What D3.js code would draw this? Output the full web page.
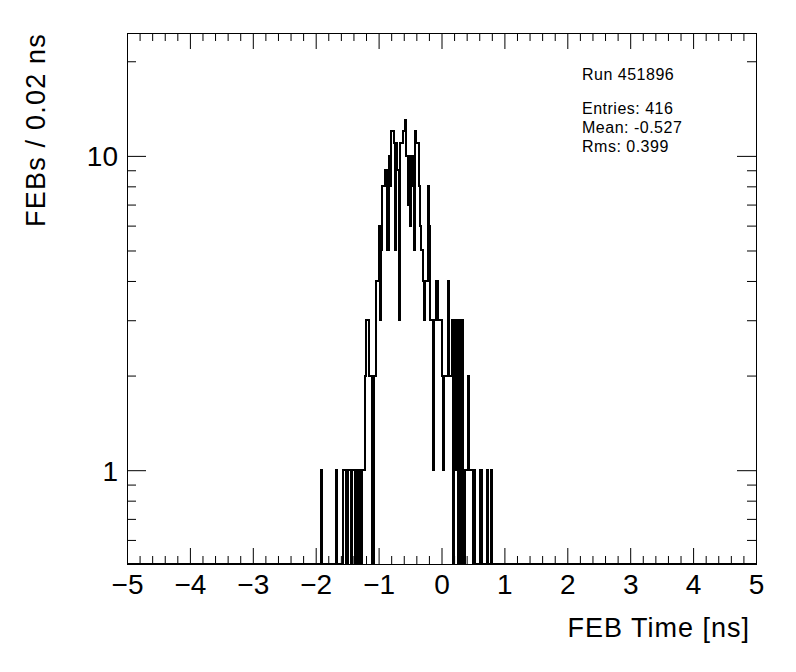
<!DOCTYPE html>
<html>
<head>
<meta charset="utf-8">
<script src="https://cdn.jsdelivr.net/npm/d3@7"></script>
<style>
  body { margin: 0; background: #fff; }
  svg { font-family: "Liberation Sans", Arial, sans-serif; }
  .axis text { font-size: 28px; fill: #000; }
  .axis line { stroke: #000; stroke-width: 1px; }
</style>
</head>
<body>
<div id="chart"></div>
<script>
// FEB time histogram, 0.02 ns bins; counts listed from the bin starting at -2.00 ns
var binWidth = 0.02;
var firstBinLow = -2.0;
var counts = [
  0, 0, 0, 0, 1, 0, 0, 0, 0, 0, 0, 0, 0, 0, 0, 0, 1, 0, 0, 0,   // -2.00 .. -1.62
  0, 0, 1, 1, 0, 0, 1, 1, 0, 1, 1, 0, 1, 1, 0, 1, 0, 1, 1, 2,   // -1.60 .. -1.22
  3, 3, 2, 2, 2, 0, 2, 2, 4, 4, 6, 3, 5, 8, 8, 9, 9, 5, 10, 8,  // -1.20 .. -0.82
  12, 12, 11, 5, 11, 9, 3, 11, 11, 12, 12, 13, 10, 7, 10, 6, 10, 8, 5, 12, // -0.80 .. -0.42
  11, 11, 8, 6, 5, 4, 3, 4, 4, 8, 6, 3, 3, 1, 3, 3, 4, 3, 3, 3, // -0.40 .. -0.02
  2, 1, 2, 2, 2, 4, 2, 2, 3, 0, 3, 1, 3, 0, 3, 0, 3, 1, 0, 1,   //  0.00 ..  0.38
  1, 2, 1, 1, 1, 0, 1, 0, 0, 0, 0, 1, 0, 0, 0, 0, 1, 0, 0, 1, 0 //  0.40 ..  0.80
];
var xRange = [-5, 5];
var yRange = [0.503, 24.6];
var xMajorTicks = [-5, -4, -3, -2, -1, 0, 1, 2, 3, 4, 5];
var yMajorTicks = [1, 10];
var yMinorTicks = [0.6, 0.7, 0.8, 0.9, 2, 3, 4, 5, 6, 7, 8, 9, 20];
var xTitle = "FEB Time [ns]";
var yTitle = "FEBs / 0.02 ns";
var runLabel = "Run 451896";
var statsLines = ["Entries: 416", "Mean: -0.527", "Rms: 0.399"];

var margin = {top: 33, right: 40, bottom: 108, left: 127},
    width = 796 - margin.left - margin.right,
    height = 672 - margin.top - margin.bottom;

var svg = d3.select("#chart").append("svg")
    .attr("width", 796)
    .attr("height", 672);
var g = svg.append("g")
    .attr("transform", "translate(" + margin.left + "," + margin.top + ")");

var x = d3.scaleLinear().domain(xRange).range([0, width]);
var y = d3.scaleLog().domain(yRange).range([height, 0]);

// minor x ticks every 0.2
var xMinorTicks = d3.range(xRange[0] * 5, xRange[1] * 5 + 1)
    .map(function(d) { return d / 5; })
    .filter(function(d) { return Math.abs(d - Math.round(d)) > 1e-6; });

// full histogram (500 bins), zero outside the listed range
var nBins = Math.round((xRange[1] - xRange[0]) / binWidth);
var offset = Math.round((firstBinLow - xRange[0]) / binWidth);
var pts = [];
for (var i = 0; i < nBins; i++) {
  var v = (i >= offset && i < offset + counts.length) ? counts[i - offset] : 0;
  var lo = xRange[0] + i * binWidth, hi = lo + binWidth;
  var yy = v > 0 ? y(v) : height;
  pts.push([x(lo), yy], [x(hi), yy]);
}
g.append("path")
    .attr("d", d3.line()(pts))
    .attr("fill", "none")
    .attr("stroke", "#000")
    .attr("stroke-width", 2)
    .attr("stroke-linejoin", "miter")
    .attr("shape-rendering", "crispEdges");

// axes: ticks pointing inwards on all four sides
function noDomain(sel) { sel.select(".domain").remove(); }

g.append("g").attr("class", "axis")
    .attr("transform", "translate(0," + height + ")")
    .call(d3.axisBottom(x).tickValues(xMinorTicks).tickSize(-8).tickFormat(""))
    .call(noDomain);
g.append("g").attr("class", "axis")
    .attr("transform", "translate(0," + height + ")")
    .call(d3.axisBottom(x).tickValues(xMajorTicks).tickSize(-16).tickPadding(10))
    .call(noDomain);
g.append("g").attr("class", "axis")
    .call(d3.axisTop(x).tickValues(xMinorTicks).tickSize(-8).tickFormat(""))
    .call(noDomain);
g.append("g").attr("class", "axis")
    .call(d3.axisTop(x).tickValues(xMajorTicks).tickSize(-16).tickFormat(""))
    .call(noDomain);

g.append("g").attr("class", "axis")
    .call(d3.axisLeft(y).tickValues(yMinorTicks).tickSize(-9).tickFormat(""))
    .call(noDomain);
g.append("g").attr("class", "axis")
    .call(d3.axisLeft(y).tickValues(yMajorTicks).tickSize(-19).tickPadding(9)
      .tickFormat(d3.format("d")))
    .call(noDomain)
    .selectAll("text").attr("dy", "0.36em");
g.append("g").attr("class", "axis")
    .attr("transform", "translate(" + width + ",0)")
    .call(d3.axisRight(y).tickValues(yMinorTicks).tickSize(-9).tickFormat(""))
    .call(noDomain);
g.append("g").attr("class", "axis")
    .attr("transform", "translate(" + width + ",0)")
    .call(d3.axisRight(y).tickValues(yMajorTicks).tickSize(-19).tickFormat(""))
    .call(noDomain);

// frame
g.append("rect")
    .attr("width", width)
    .attr("height", height)
    .attr("fill", "none")
    .attr("stroke", "#000")
    .attr("stroke-width", 1)
    .attr("shape-rendering", "crispEdges");

// axis titles
svg.append("text")
    .attr("x", 750)
    .attr("y", 637)
    .attr("text-anchor", "end")
    .style("font-size", "27px")
    .style("letter-spacing", "1px")
    .text(xTitle);

svg.append("text")
    .attr("transform", "translate(45,33) rotate(-90)")
    .attr("text-anchor", "end")
    .style("font-size", "27px")
    .style("letter-spacing", "1.2px")
    .text(yTitle);

// run / statistics box
svg.append("text")
    .attr("x", 582)
    .attr("y", 80)
    .style("font-size", "16px")
    .style("letter-spacing", "0.5px")
    .text(runLabel);

svg.selectAll(".stat")
    .data(statsLines)
    .enter().append("text")
    .attr("class", "stat")
    .attr("x", 582)
    .attr("y", function(d, i) { return 114 + i * 19; })
    .style("font-size", "16px")
    .style("letter-spacing", "0.5px")
    .text(function(d) { return d; });
</script>
</body>
</html>
